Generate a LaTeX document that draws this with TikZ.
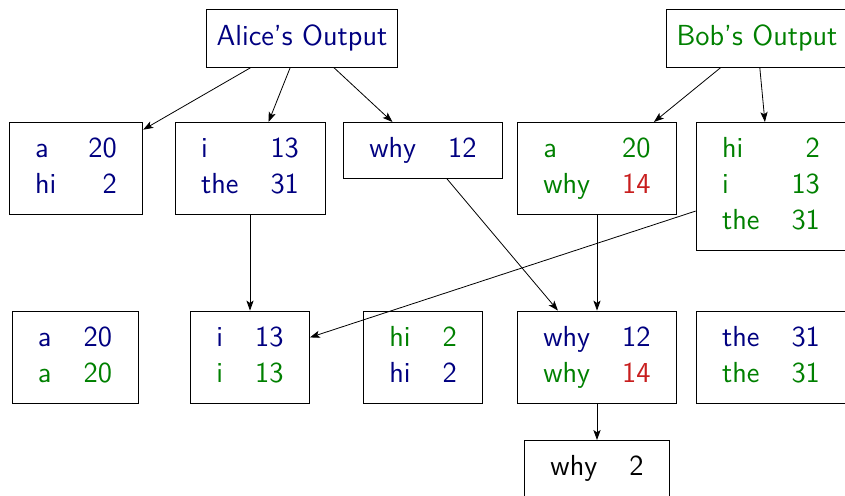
\documentclass[tikz,border=0pt]{standalone}
\usepackage{tikz}
\usetikzlibrary{arrows.meta}

\definecolor{alicecol}{RGB}{0,0,128}
\definecolor{bobcol}{RGB}{0,128,0}
\definecolor{diffcol}{RGB}{200,30,30}
\newcommand{\alicetxt}[1]{\textcolor{alicecol}{#1}}
\newcommand{\bobtxt}[1]{\textcolor{bobcol}{#1}}
\newcommand{\difftxt}[1]{\textcolor{diffcol}{#1}}
\newcommand{\kv}[1]{\begin{tabular}{@{}l@{\hspace{16pt}}r@{}}#1\end{tabular}}

\begin{document}
\begin{tikzpicture}[x=0.5pt,y=-0.5pt,
  every node/.style={rectangle,draw,font=\sffamily\fontsize{14.5}{18}\selectfont,inner xsep=13pt,inner ysep=5pt},
  title/.style={inner xsep=5pt,minimum height=29pt},
  link/.style={-{Stealth[length=5pt,width=3.6pt,inset=1.2pt]}}]
\useasboundingbox (0,0) rectangle (845,496);
\clip (0,0) rectangle (845,496);
\node (alice) at (302,38) [title,text=alicecol] {Alice's Output};
\node (bob) at (757,38) [title,text=bobcol] {Bob's Output};
\node (a1) at (76,122) [anchor=north,text=alicecol] {\kv{a & 20\\ hi & 2}};
\node (a2) at (250,122) [anchor=north,text=alicecol] {\kv{i & 13\\ the & 31}};
\node (a3) at (423,122) [anchor=north,text=alicecol] {\kv{why & 12}};
\node (b1) at (597,122) [anchor=north,text=bobcol] {\kv{a & 20\\ why & \difftxt{14}}};
\node (b2) at (771,122) [anchor=north,text=bobcol] {\kv{hi & 2\\ i & 13\\ the & 31}};
\node (c1) at (75,357) {\kv{\alicetxt{a} & \alicetxt{20}\\ \bobtxt{a} & \bobtxt{20}}};
\node (c2) at (250,357) {\kv{\alicetxt{i} & \alicetxt{13}\\ \bobtxt{i} & \bobtxt{13}}};
\node (c3) at (423,357) {\kv{\bobtxt{hi} & \bobtxt{2}\\ \alicetxt{hi} & \alicetxt{2}}};
\node (c4) at (597,357) {\kv{\alicetxt{why} & \alicetxt{12}\\ \bobtxt{why} & \difftxt{14}}};
\node (c5) at (771,357) {\kv{\alicetxt{the} & \alicetxt{31}\\ \bobtxt{the} & \bobtxt{31}}};
\node (d) at (597,440) [anchor=north] {\kv{why & 2}};

\draw[link] (alice) -- (a1);
\draw[link] (alice) -- (a2);
\draw[link] (alice) -- (a3);
\draw[link] (bob) -- (b1);
\draw[link] (bob) -- (b2);
\draw[link] (a2) -- (c2);
\draw[link] (a3) -- (c4);
\draw[link] (b1) -- (c4);
\draw[link] (b2) -- (c2);
\draw[link] (c4) -- (d);
\end{tikzpicture}
\end{document}
